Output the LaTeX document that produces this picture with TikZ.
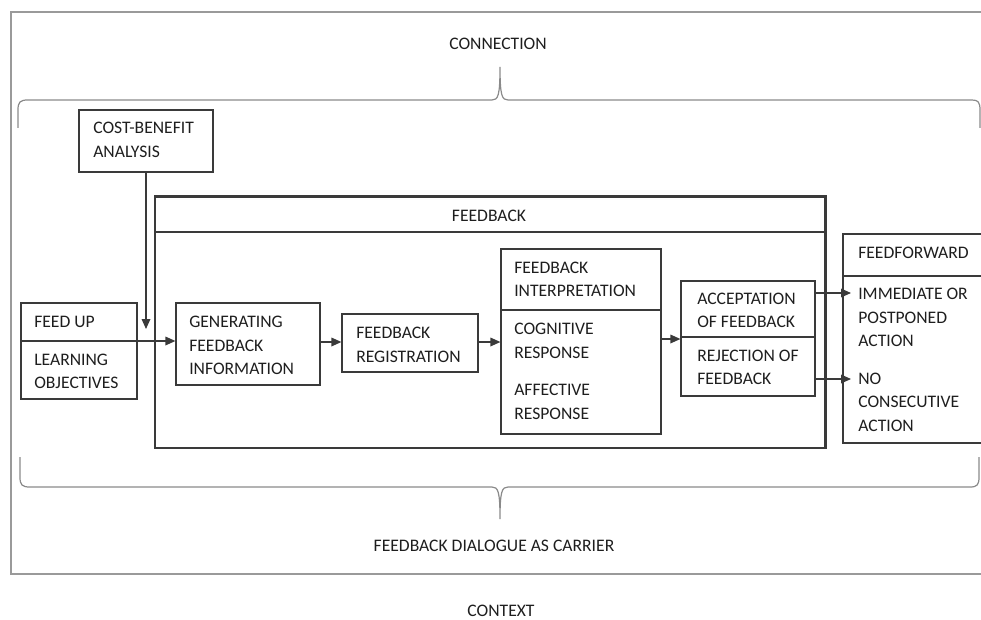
\documentclass[tikz,border=0pt]{standalone}
\usepackage{fontspec}
\setmainfont{Carlito}
\usetikzlibrary{arrows.meta,fit}
\definecolor{boxc}{HTML}{3A3A3A}
\definecolor{framec}{HTML}{9A9A9A}
\definecolor{bracec}{HTML}{8A8A8A}
\definecolor{txtc}{HTML}{1E1E1E}
\begin{document}
\begin{tikzpicture}[x=0.75pt,y=-0.75pt,
  box/.style={draw=boxc, line width=0.9pt, inner sep=0pt},
  txt/.style={font=\fontsize{13.2}{17.6}\selectfont, text=txtc, align=left, inner sep=0pt, anchor=west},
  ctxt/.style={txt, anchor=center, align=center},
  arr/.style={draw=boxc, line width=0.9pt, -{Triangle[length=7.5pt,width=6.5pt]}},
  brace/.style={draw=bracec, line width=0.9pt},
  frame/.style={draw=framec, line width=1pt},
  divider/.style={draw=boxc, line width=0.9pt}
]
\useasboundingbox (0,0) rectangle (981,620);
\clip (0,0) rectangle (981,620);

% outer frame (context)
\draw[frame] (981,12) -- (11,12) -- (11,574) -- (981,574);

% top brace (connection)
\draw[brace] (18,128) -- (18,110) .. controls (18,102) and (20,100) .. (28,100)
  -- (492,100) .. controls (498,100) and (500,96) .. (500,67)
  .. controls (500,96) and (502,100) .. (508,100) -- (972,100)
  .. controls (978,100) and (980,102) .. (980,110) -- (980,128);
% bottom brace (dialogue)
\draw[brace] (20,457) -- (20,477) .. controls (20,485) and (22,487) .. (30,487)
  -- (492,487) .. controls (498,487) and (500,491) .. (500,519)
  .. controls (500,491) and (502,487) .. (508,487) -- (970,487)
  .. controls (977,487) and (979,485) .. (979,477) -- (979,457);

\node[ctxt] (conn) at (498,44) {CONNECTION};
\node[ctxt] (carrier) at (494,546) {FEEDBACK DIALOGUE AS CARRIER};
\node[ctxt] (context) at (501,611) {CONTEXT};

% cost-benefit
\node[box, fit={(79,110) (213,172)}] (cb) {};
\node[txt] (cbt) at (93,140) {COST-BENEFIT\\ANALYSIS};

% feedback big box
\node[box, fit={(155,197) (825,448)}] (fb) {};
\draw[boxc, line width=2pt] (fb.north west) -- (fb.north east) -- ([yshift=-0.75pt]fb.north east |- 0,232);
\draw[divider] (155,232) -- (825,232);
\draw[boxc, line width=1.4pt] (fb.north east) -- (fb.south east);
\node[ctxt] (fbt) at (489,216) {FEEDBACK};

% feed up
\node[box, fit={(21,303) (137,399)}] (fu) {};
\node[txt] (fut) at (34,322) {FEED UP};
\node[txt] (lot) at (34,371.5) {LEARNING\\OBJECTIVES};
\coordinate (fudiv) at (21,341);

% generating
\node[box, fit={(176,303) (320,385)}] (gen) {};
\node[txt] (gent) at (189,345.5) {GENERATING\\FEEDBACK\\INFORMATION};

% registration
\node[box, fit={(342,314) (478,372)}] (reg) {};
\node[txt] (regt) at (356,345) {FEEDBACK\\REGISTRATION};

% interpretation
\node[box, fit={(501,249) (661,434)}] (int) {};
\draw[divider] (int.west |- 0,310) -- (int.east |- 0,310);
\node[txt] (intt) at (514,279.5) {FEEDBACK\\INTERPRETATION};
\node[txt] (cogt) at (514,341) {COGNITIVE\\RESPONSE};
\node[txt] (afft) at (514,402) {AFFECTIVE\\RESPONSE};

% acceptation / rejection
\node[box, fit={(681,281) (815,396)}] (acc) {};
\draw[divider] (acc.west |- 0,337) -- (acc.east |- 0,337);
\node[txt] (acct) at (697,310.5) {ACCEPTATION\\OF FEEDBACK};
\node[txt] (rejt) at (697,367.5) {REJECTION OF\\FEEDBACK};

% feedforward
\node[box, fit={(843,234) (995,443)}] (ff) {};
\draw[divider] (ff.west |- 0,276) -- (ff.east |- 0,276);
\node[txt] (fft) at (858,253) {FEEDFORWARD};
\node[txt] (immt) at (858,317.7) {IMMEDIATE OR\\POSTPONED\\ACTION};
\node[txt] (not) at (858,402.3) {NO\\CONSECUTIVE\\ACTION};
\coordinate (ffa) at (851,293);
\coordinate (ffb) at (851,379);

% connectors
\coordinate (cbend) at (146,329);
\draw[arr] (cb.south -| cbend) -- (cbend);
\draw[arr] (fudiv) -- (gen.west |- fudiv);
\draw[arr] (gen.east |- 0,342) -- (reg.west |- 0,342);
\draw[arr] (reg.east |- 0,342) -- (int.west |- 0,342);
\draw[arr] (int.east |- 0,339) -- (acc.west |- 0,339);
\draw[arr] (acc.east |- ffa) -- (ffa);
\draw[arr] (acc.east |- ffb) -- (ffb);
\end{tikzpicture}
\end{document}
